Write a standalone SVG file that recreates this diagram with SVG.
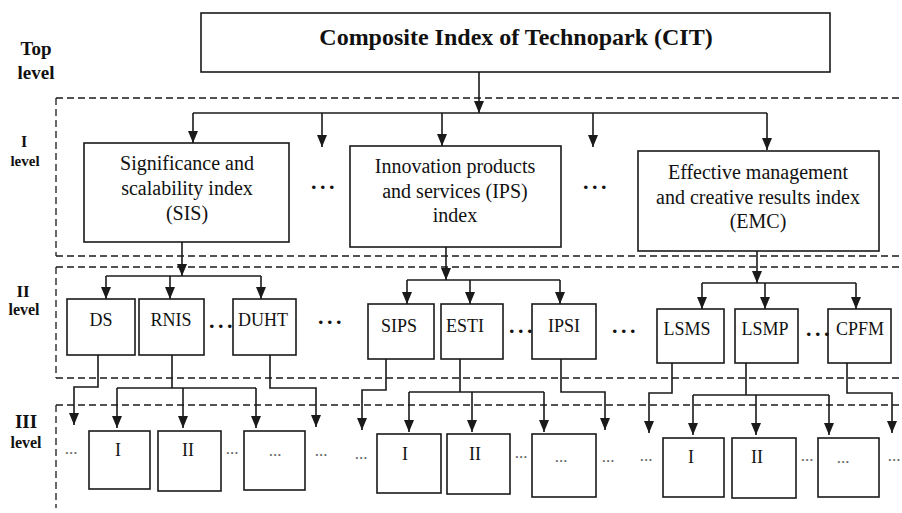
<svg xmlns="http://www.w3.org/2000/svg" width="902" height="513" viewBox="0 0 902 513">
<defs>
<style>
.box{fill:#fff;stroke:#1a1a1a;stroke-width:1.6}
.ln{fill:none;stroke:#1a1a1a;stroke-width:1.6}
.ar{fill:none;stroke:#1a1a1a;stroke-width:1.6;marker-end:url(#ah)}
.dash{fill:none;stroke:#1a1a1a;stroke-width:1.3;stroke-dasharray:7 4}
.t{font-family:'Liberation Serif','DejaVu Serif','Noto Serif','Times New Roman',serif;fill:#111;text-anchor:middle}
.lvl{font-family:'Liberation Serif','DejaVu Serif','Noto Serif','Times New Roman',serif;font-weight:bold;fill:#111;text-anchor:middle}
.n1{font-size:20px}
.n2{font-size:18px}
.dots{font-family:'Liberation Serif','DejaVu Serif',serif;font-weight:bold;font-size:22px;letter-spacing:3.5px;fill:#111}
.sd{font-family:'Liberation Serif','DejaVu Serif',serif;font-size:17px;fill:#666;text-anchor:middle}
</style>
<marker id="ah" viewBox="0 -5 12 10" refX="12" refY="0" markerWidth="12" markerHeight="10" markerUnits="userSpaceOnUse" orient="auto">
<path d="M0,-5 L12,0 L0,5 z" fill="#1a1a1a"/>
</marker>
</defs>
<rect width="902" height="513" fill="#fff"/>

<g id="levels">
<path class="dash" d="M56,98 H902 M56,98 V256 M56,256 H902"/>
<path class="dash" d="M56,267 H902 M56,267 V378 M56,378 H902"/>
<path class="dash" d="M56,405 H902 M56,405 V508"/>
<text class="lvl" x="36" y="55" font-size="19">Top</text>
<text class="lvl" x="36" y="79" font-size="19">level</text>
<text class="lvl" x="24" y="147" font-size="16">I</text>
<text class="lvl" x="25" y="166" font-size="15">level</text>
<text class="lvl" x="23" y="297" font-size="17">II</text>
<text class="lvl" x="24" y="315" font-size="16">level</text>
<text class="lvl" x="26" y="428" font-size="19">III</text>
<text class="lvl" x="26" y="448" font-size="16">level</text>
</g>

<g id="connectors">
<path class="ar" d="M479,72 V113"/>
<path class="ln" d="M193,113 H767"/>
<path class="ar" d="M193,113 V143"/>
<path class="ar" d="M322,113 V147"/>
<path class="ar" d="M442,113 V146"/>
<path class="ar" d="M593,113 V147"/>
<path class="ar" d="M767,113 V150"/>

<path class="ar" d="M182,242 V276"/>
<path class="ln" d="M106,276 H261"/>
<path class="ar" d="M106,276 V299"/>
<path class="ar" d="M170,276 V299"/>
<path class="ar" d="M261,276 V299"/>
<path class="ar" d="M446,247 V280"/>
<path class="ln" d="M407,280 H560"/>
<path class="ar" d="M407,280 V304"/>
<path class="ar" d="M470,280 V304"/>
<path class="ar" d="M560,280 V304"/>
<path class="ar" d="M757,251 V283"/>
<path class="ln" d="M702,283 H856"/>
<path class="ar" d="M702,283 V309"/>
<path class="ar" d="M765,283 V309"/>
<path class="ar" d="M856,283 V309"/>

<path class="ar" d="M98,355 V387 H74 V425"/>
<path class="ln" d="M172,355 V388 M117,388 H256"/>
<path class="ar" d="M117,388 V428"/>
<path class="ar" d="M183,388 V428"/>
<path class="ar" d="M256,388 V428"/>
<path class="ar" d="M270,355 V388 H316 V427"/>
<path class="ar" d="M386,359 V390 H362 V430"/>
<path class="ln" d="M460,359 V392 M409,392 H544"/>
<path class="ar" d="M409,392 V432"/>
<path class="ar" d="M472,392 V432"/>
<path class="ar" d="M544,392 V432"/>
<path class="ar" d="M561,359 V392 H605 V430"/>
<path class="ar" d="M672,363 V393 H649 V433"/>
<path class="ln" d="M746,363 V395 M693,395 H829"/>
<path class="ar" d="M693,395 V435"/>
<path class="ar" d="M756,395 V435"/>
<path class="ar" d="M829,395 V435"/>
<path class="ar" d="M847,363 V393 H892 V433"/>
</g>

<g id="cit">
<rect class="box" x="201" y="13" width="629" height="59"/>
<text class="t" x="516" y="45" font-size="24" font-weight="bold">Composite Index of Technopark (CIT)</text>
</g>

<g id="sis">
<rect class="box" x="84" y="143" width="205" height="99"/>
<text class="t n1" x="187" y="170">Significance and</text>
<text class="t n1" x="187" y="195">scalability index</text>
<text class="t n1" x="187" y="220">(SIS)</text>
</g>
<g id="ips">
<rect class="box" x="350" y="146" width="211" height="101"/>
<text class="t n1" x="455" y="173">Innovation products</text>
<text class="t n1" x="455" y="198">and services (IPS)</text>
<text class="t n1" x="455" y="222">index</text>
</g>
<g id="emc">
<rect class="box" x="638" y="151" width="241" height="100"/>
<text class="t n1" x="758" y="179">Effective management</text>
<text class="t n1" x="758" y="204">and creative results index</text>
<text class="t n1" x="758" y="228">(EMC)</text>
</g>
<text class="dots" x="311" y="189">...</text>
<text class="dots" x="583" y="189">...</text>

<g id="ds"><rect class="box" x="67" y="299" width="68" height="56"/><text class="t n2" x="101" y="326">DS</text></g>
<g id="rnis"><rect class="box" x="139" y="299" width="65" height="56"/><text class="t n2" x="171" y="326">RNIS</text></g>
<g id="duht"><rect class="box" x="233" y="299" width="63" height="56"/><text class="t n2" x="263" y="326">DUHT</text></g>
<g id="sips"><rect class="box" x="368" y="304" width="66" height="55"/><text class="t n2" x="399" y="332">SIPS</text></g>
<g id="esti"><rect class="box" x="441" y="304" width="62" height="55"/><text class="t n2" x="465" y="332">ESTI</text></g>
<g id="ipsi"><rect class="box" x="532" y="304" width="64" height="55"/><text class="t n2" x="564" y="332">IPSI</text></g>
<g id="lsms"><rect class="box" x="657" y="309" width="67" height="54"/><text class="t n2" x="687" y="335">LSMS</text></g>
<g id="lsmp"><rect class="box" x="735" y="309" width="63" height="54"/><text class="t n2" x="765" y="335">LSMP</text></g>
<g id="cpfm"><rect class="box" x="828" y="309" width="63" height="54"/><text class="t n2" x="860" y="335">CPFM</text></g>
<text class="dots" x="209" y="328">...</text>
<text class="dots" x="318" y="324">...</text>
<text class="dots" x="509" y="333">...</text>
<text class="dots" x="612" y="333">...</text>
<text class="dots" x="806" y="336">...</text>

<g id="g1-i"><rect class="box" x="89" y="431" width="61" height="58"/><text class="t n2" x="118" y="456">I</text></g>
<g id="g1-ii"><rect class="box" x="158" y="431" width="63" height="60"/><text class="t n2" x="188" y="456">II</text></g>
<g id="g1-more"><rect class="box" x="244" y="431" width="61" height="59"/><text class="sd" x="275" y="456">...</text></g>
<g id="g2-i"><rect class="box" x="377" y="434" width="64" height="59"/><text class="t n2" x="405" y="460">I</text></g>
<g id="g2-ii"><rect class="box" x="447" y="434" width="63" height="60"/><text class="t n2" x="475" y="460">II</text></g>
<g id="g2-more"><rect class="box" x="532" y="434" width="64" height="63"/><text class="sd" x="561" y="462">...</text></g>
<g id="g3-i"><rect class="box" x="663" y="438" width="61" height="59"/><text class="t n2" x="691" y="463">I</text></g>
<g id="g3-ii"><rect class="box" x="732" y="438" width="64" height="60"/><text class="t n2" x="757" y="463">II</text></g>
<g id="g3-more"><rect class="box" x="818" y="438" width="61" height="59"/><text class="sd" x="843" y="463">...</text></g>
<text class="sd" x="71" y="454">...</text>
<text class="sd" x="232" y="454">...</text>
<text class="sd" x="321" y="456">...</text>
<text class="sd" x="361" y="459">...</text>
<text class="sd" x="521" y="458">...</text>
<text class="sd" x="608" y="462">...</text>
<text class="sd" x="646" y="461">...</text>
<text class="sd" x="807" y="461">...</text>
<text class="sd" x="894" y="461">...</text>
</svg>
